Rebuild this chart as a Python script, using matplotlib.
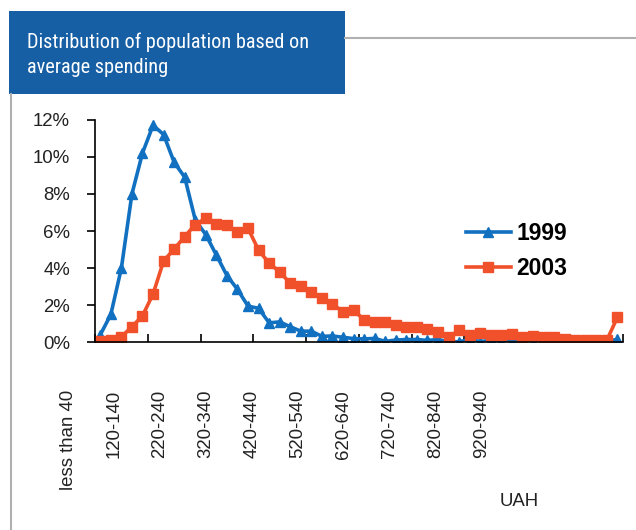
import matplotlib
matplotlib.use('Agg')
import matplotlib.pyplot as plt
import matplotlib.transforms as mtransforms
from matplotlib.lines import Line2D
from matplotlib.patches import Rectangle
from matplotlib.ticker import FuncFormatter
from matplotlib import font_manager

# share of population (%) per spending bin, 20 UAH wide
bins = ['less than 40'] + ['%d-%d' % (a, a + 20) for a in range(40, 1000, 20)] + ['more than 1000']
y1999 = [0.4, 1.5, 4.0, 8.0, 10.2, 11.7, 11.2, 9.7, 8.9, 6.6,
         5.8, 4.7, 3.6, 2.85, 1.95, 1.83, 1.05, 1.1, 0.84, 0.6,
         0.6, 0.32, 0.34, 0.27, 0.2, 0.18, 0.21, 0.05, 0.12, 0.15,
         0.15, 0.1, 0.15, 0.03, 0.03, 0.15, 0.04, 0.1, 0.05, 0.05,
         0.05, 0.04, 0.05, 0.03, 0.05, 0.04, 0.03, 0.03, 0.04, 0.16]
y2003 = [0.07, 0.1, 0.3, 0.84, 1.43, 2.6, 4.38, 5.03, 5.7, 6.35,
         6.68, 6.4, 6.3, 5.96, 6.14, 4.97, 4.26, 3.8, 3.18, 3.05,
         2.73, 2.37, 2.06, 1.65, 1.74, 1.2, 1.11, 1.11, 0.93, 0.85,
         0.8, 0.7, 0.57, 0.27, 0.66, 0.4, 0.5, 0.4, 0.37, 0.45,
         0.3, 0.34, 0.3, 0.27, 0.16, 0.12, 0.12, 0.12, 0.12, 1.35]
shown = ['less than 40', '120-140', '220-240', '320-340', '420-440',
         '520-540', '620-640', '720-740', '820-840', '920-940']
yticks = [0, 2, 4, 6, 8, 10, 12]

blue = '#1170C0'
red = '#F0502A'
txt = '#222222'
plt.rcParams['font.family'] = ['Liberation Sans', 'DejaVu Sans']

# pick a narrow face for the header if one is installed
names = {f.name for f in font_manager.fontManager.ttflist}
narrow = [n for n in ['Liberation Sans Narrow', 'Roboto Condensed', 'DejaVu Sans Condensed',
                      'Open Sans Condensed', 'Liberation Sans'] if n in names]

W, H = 636, 530
fig = plt.figure(figsize=(W / 100, H / 100), dpi=100)

def fx(px):
    return px / W

def fy(py):
    return 1 - py / H

# header box and frame lines
fig.add_artist(Line2D([fx(345), fx(636)], [fy(37.5), fy(37.5)], color='#b0b0b0', lw=1.5))
fig.add_artist(Line2D([fx(10.5), fx(10.5)], [fy(94), fy(530)], color='#b0b0b0', lw=1.5))
fig.add_artist(Rectangle((fx(9), fy(94)), fx(345) - fx(9), fy(11) - fy(94),
                         facecolor='#175FA5', edgecolor='none'))
fig.text(fx(27), fy(48), 'Distribution of population based on',
         color='white', fontsize=14.6, va='baseline', ha='left',
         family=narrow[:1] + ['DejaVu Sans'])
fig.text(fx(27), fy(73), 'average spending',
         color='white', fontsize=14.6, va='baseline', ha='left',
         family=narrow[:1] + ['DejaVu Sans'])

ax = fig.add_axes([fx(95), fy(342.3), fx(622.7) - fx(95), fy(119.7) - fy(342.3)])
x = list(range(len(bins)))
ax.plot(x, y1999, color=blue, lw=2.6, marker='^', ms=7.5, label='1999')
ax.plot(x, y2003, color=red, lw=2.6, marker='s', ms=6.5, label='2003')

ax.set_xlim(-0.5, len(bins) - 0.5)
ax.set_ylim(0, 12)
ax.set_yticks(yticks)
ax.yaxis.set_major_formatter(FuncFormatter(lambda v, p: '%d%%' % v))
ax.tick_params(axis='y', direction='out', length=6, width=1.2, pad=12,
               labelsize=13.4, labelcolor=txt)

# tick marks every 5 bins; category labels sit in their own, slightly compressed row
ax.set_xticks([i - 0.5 for i in range(0, len(bins) + 1, 5)])
ax.set_xticklabels([])
ax.tick_params(axis='x', direction='in', length=6, width=1.2)
trans = mtransforms.blended_transform_factory(ax.transData, ax.transAxes)
for k, lab in enumerate(shown):
    ax.text(-3.05 + 4.355 * k, -0.214, lab, transform=trans, rotation=90, ha='center',
            va='top', fontsize=13.4, color=txt, clip_on=False)

for s in ['top', 'right']:
    ax.spines[s].set_visible(False)
for s in ['left', 'bottom']:
    ax.spines[s].set_linewidth(1.2)

ax.legend(loc='center left', bbox_to_anchor=(fx(466), fy(251)), bbox_transform=fig.transFigure,
          frameon=False, borderpad=0, borderaxespad=0, handlelength=1.95, handletextpad=0.25,
          labelspacing=0.5, numpoints=1, prop={'weight': 'bold', 'size': 16.5})

fig.text(fx(519), fy(502), 'UAH', fontsize=13.4, color=txt, ha='center', va='center')

fig.savefig('out.png', dpi=100)
